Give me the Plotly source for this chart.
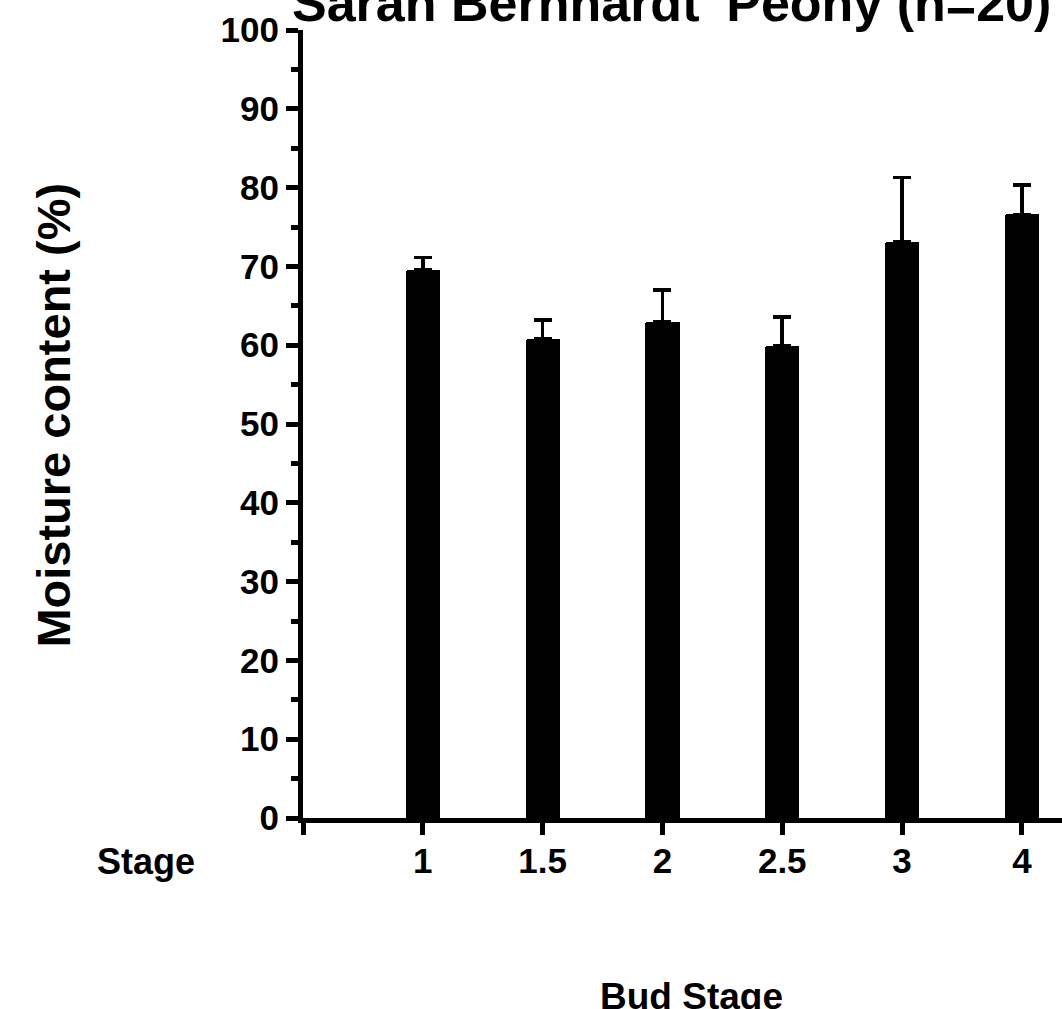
import plotly.graph_objects as go

categories = ["1", "1.5", "2", "2.5", "3", "4"]
moisture = [69.6, 60.8, 63.0, 59.9, 73.1, 76.6]
sd_upper = [1.5, 2.4, 4.0, 3.7, 8.2, 3.7]
y_ticks = [0, 10, 20, 30, 40, 50, 60, 70, 80, 90, 100]

positions = list(range(1, len(categories) + 1))
FONT = "Liberation Sans, Arial, sans-serif"

fig = go.Figure()
fig.add_trace(go.Bar(
    x=positions, y=moisture, width=0.285,
    marker=dict(color="black", line=dict(width=0), cornerradius=2),
    error_y=dict(type="data", symmetric=False, array=sd_upper,
                 arrayminus=[0] * len(sd_upper),
                 color="black", thickness=3.5, width=9),
    showlegend=False,
))

fig.update_layout(
    width=1062, height=1009,
    margin=dict(l=303, r=0, t=30, b=191),
    paper_bgcolor="white", plot_bgcolor="white",
    font=dict(family=FONT, color="black"),
    bargap=0,
)
fig.update_xaxes(
    range=[0, 6.335], tickvals=[0] + positions, ticktext=[""] + categories,
    showline=True, linecolor="black", linewidth=5,
    ticks="outside", ticklen=12, tickwidth=5, tickcolor="black",
    tickfont=dict(family=FONT, size=35, weight="bold"),
    ticklabelstandoff=-4,
    showgrid=False, zeroline=False,
)
fig.update_yaxes(
    range=[0, 100], tickvals=y_ticks,
    showline=True, linecolor="black", linewidth=5,
    ticks="outside", ticklen=12, tickwidth=5, tickcolor="black",
    minor=dict(dtick=5, ticks="outside", ticklen=7, tickwidth=5, tickcolor="black"),
    tickfont=dict(family=FONT, size=35, weight="bold"),
    showgrid=False, zeroline=False,
)

fig.add_annotation(text="Sarah Bernhardt' Peony (n=20)", xref="paper", yref="paper",
                   x=0.486, y=1, xanchor="center", yanchor="bottom", yshift=-4,
                   showarrow=False, font=dict(family=FONT, size=52, weight="bold"))
fig.add_annotation(text="Moisture content (%)", xref="paper", yref="paper",
                   x=-0.329, y=0.511, xanchor="center", yanchor="middle", textangle=-90,
                   showarrow=False, font=dict(family=FONT, size=47, weight="bold"))
fig.add_annotation(text="Stage", xref="paper", yref="paper",
                   x=-0.2069, y=-0.0558, xanchor="center", yanchor="middle",
                   showarrow=False, font=dict(family=FONT, size=36, weight="bold"))
fig.add_annotation(text="Bud Stage", xref="paper", yref="paper",
                   x=0.5125, y=-0.227, xanchor="center", yanchor="middle",
                   showarrow=False, font=dict(family=FONT, size=37, weight="bold"))

fig.write_html("out.html")
